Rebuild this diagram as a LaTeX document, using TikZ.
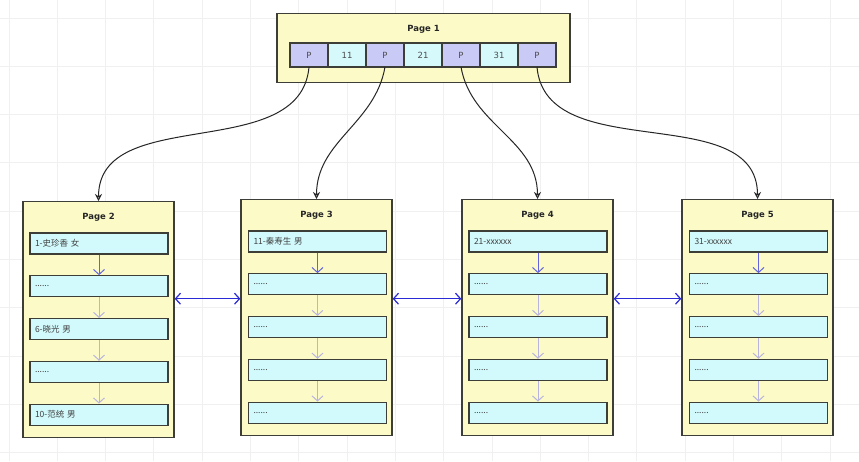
\documentclass[tikz,border=0pt]{standalone}
\usepackage{fontspec}
\setmainfont{DejaVu Sans}
\newfontfamily\cjk{Noto Sans CJK SC}
\usetikzlibrary{arrows.meta,positioning}

\definecolor{pagefill}{HTML}{FCFBC8}
\definecolor{pageborder}{HTML}{3E3E38}
\definecolor{recfill}{HTML}{D2FAFC}
\definecolor{ptrfill}{HTML}{CACAF6}
\definecolor{keyfill}{HTML}{D6FAFC}
\definecolor{firstarrow}{HTML}{6464E0}
\definecolor{restarrow}{HTML}{B8B4DE}
\definecolor{sibblue}{HTML}{2A2AD6}
\definecolor{gridgrey}{HTML}{F0F0F0}

\begin{document}
\begin{tikzpicture}[x=1pt,y=-1pt,node distance=42.8pt]

\tikzstyle{gridline}  = [draw=gridgrey, line width=0.9pt]
\tikzstyle{page}      = [draw=pageborder, line width=1.4pt, fill=pagefill, anchor=north, minimum width=151pt, minimum height=236pt, inner sep=0pt]
\tikzstyle{title}     = [font=\bfseries\fontsize{8.5}{10}\selectfont, text=black!85]
\tikzstyle{record}    = [draw=pageborder, line width=1.3pt, fill=recfill, minimum height=21pt, text width=128pt, inner xsep=5pt, inner ysep=0pt, align=left, font=\cjk\fontsize{8.5}{10}\selectfont, text=black!75]
\tikzstyle{ptr}       = [draw=pageborder, line width=1.2pt, fill=ptrfill, minimum width=38pt, minimum height=24pt, inner sep=0pt, outer sep=0pt, font=\fontsize{8.5}{10}\selectfont, text=black!70]
\tikzstyle{key}       = [ptr, fill=keyfill]
\tikzstyle{child}     = [draw=black!85, line width=1pt, -{Stealth[open, length=7pt, width=7pt]}]
\tikzstyle{nextfirst} = [draw=firstarrow, line width=1pt, -{Straight Barb[length=5pt, width=11pt]}]
\tikzstyle{nextrec}   = [nextfirst, draw=restarrow]
\tikzstyle{sibling}   = [draw=sibblue, line width=1.2pt, {Straight Barb[length=5pt, width=11pt]}-{Straight Barb[length=5pt, width=11pt]}]

\useasboundingbox (0,0) rectangle (859,461);
\fill[white] (0,0) rectangle (859,461);
\foreach \gx in {9,57.3,...,860} \draw[gridline] (\gx,0) -- (\gx,461);
\foreach \gy in {18,66.3,...,462} \draw[gridline] (0,\gy) -- (859,\gy);

\node [page, minimum width=293pt, minimum height=69pt] (Page1) at (423.5,13) {};
\node [title] (Title1) at (423.5,29) {Page 1};
\node [ptr] (P1) at (309,55) {P};
\node [key, right=0pt of P1]    (Key11) {11};
\node [ptr, right=0pt of Key11] (P2)    {P};
\node [key, right=0pt of P2]    (Key21) {21};
\node [ptr, right=0pt of Key21] (P3)    {P};
\node [key, right=0pt of P3]    (Key31) {31};
\node [ptr, right=0pt of Key31] (P4)    {P};

\node [page] (Page2) at (98.5,201) {};
\node [title] (Title2) at (98.5,217) {Page 2};
\node [record] (Rec21) at (99,243.5) {1-史珍香 女};
\node [record, below of=Rec21] (Rec22) {......};
\node [record, below of=Rec22] (Rec23) {6-晓光 男};
\node [record, below of=Rec23] (Rec24) {......};
\node [record, below of=Rec24] (Rec25) {10-范统 男};

\node [page] (Page3) at (316.5,199) {};
\node [title] (Title3) at (316.5,215) {Page 3};
\node [record] (Rec31) at (317.5,241.5) {11-秦寿生 男};
\node [record, below of=Rec31] (Rec32) {......};
\node [record, below of=Rec32] (Rec33) {......};
\node [record, below of=Rec33] (Rec34) {......};
\node [record, below of=Rec34] (Rec35) {......};

\node [page] (Page4) at (537.5,199) {};
\node [title] (Title4) at (537.5,215) {Page 4};
\node [record] (Rec41) at (538,241.5) {21-xxxxxx};
\node [record, below of=Rec41] (Rec42) {......};
\node [record, below of=Rec42] (Rec43) {......};
\node [record, below of=Rec43] (Rec44) {......};
\node [record, below of=Rec44] (Rec45) {......};

\node [page] (Page5) at (757.5,199) {};
\node [title] (Title5) at (757.5,215) {Page 5};
\node [record] (Rec51) at (758.5,241.5) {31-xxxxxx};
\node [record, below of=Rec51] (Rec52) {......};
\node [record, below of=Rec52] (Rec53) {......};
\node [record, below of=Rec53] (Rec54) {......};
\node [record, below of=Rec54] (Rec55) {......};

\draw [child] (P1.south) to [out=-95, in=90] (Page2.north);
\draw [child] (P2.south) to [out=-100, in=90] (Page3.north);
\draw [child] (P3.south) to [out=-80, in=90] (Page4.north);
\draw [child] (P4.south) to [out=-85, in=90] (Page5.north);

\draw [nextfirst] (Rec21) -- (Rec22);
\draw [nextrec] (Rec22) -- (Rec23);
\draw [nextrec] (Rec23) -- (Rec24);
\draw [nextrec] (Rec24) -- (Rec25);
\draw [nextfirst] (Rec31) -- (Rec32);
\draw [nextrec] (Rec32) -- (Rec33);
\draw [nextrec] (Rec33) -- (Rec34);
\draw [nextrec] (Rec34) -- (Rec35);
\draw [nextfirst] (Rec41) -- (Rec42);
\draw [nextrec] (Rec42) -- (Rec43);
\draw [nextrec] (Rec43) -- (Rec44);
\draw [nextrec] (Rec44) -- (Rec45);
\draw [nextfirst] (Rec51) -- (Rec52);
\draw [nextrec] (Rec52) -- (Rec53);
\draw [nextrec] (Rec53) -- (Rec54);
\draw [nextrec] (Rec54) -- (Rec55);

\draw [sibling] ([yshift=21pt]Page2.east) -- ([yshift=21pt]Page2.east -| Page3.west);
\draw [sibling] ([yshift=19pt]Page3.east) -- ([yshift=19pt]Page3.east -| Page4.west);
\draw [sibling] ([yshift=19pt]Page4.east) -- ([yshift=19pt]Page4.east -| Page5.west);
\end{tikzpicture}
\end{document}
